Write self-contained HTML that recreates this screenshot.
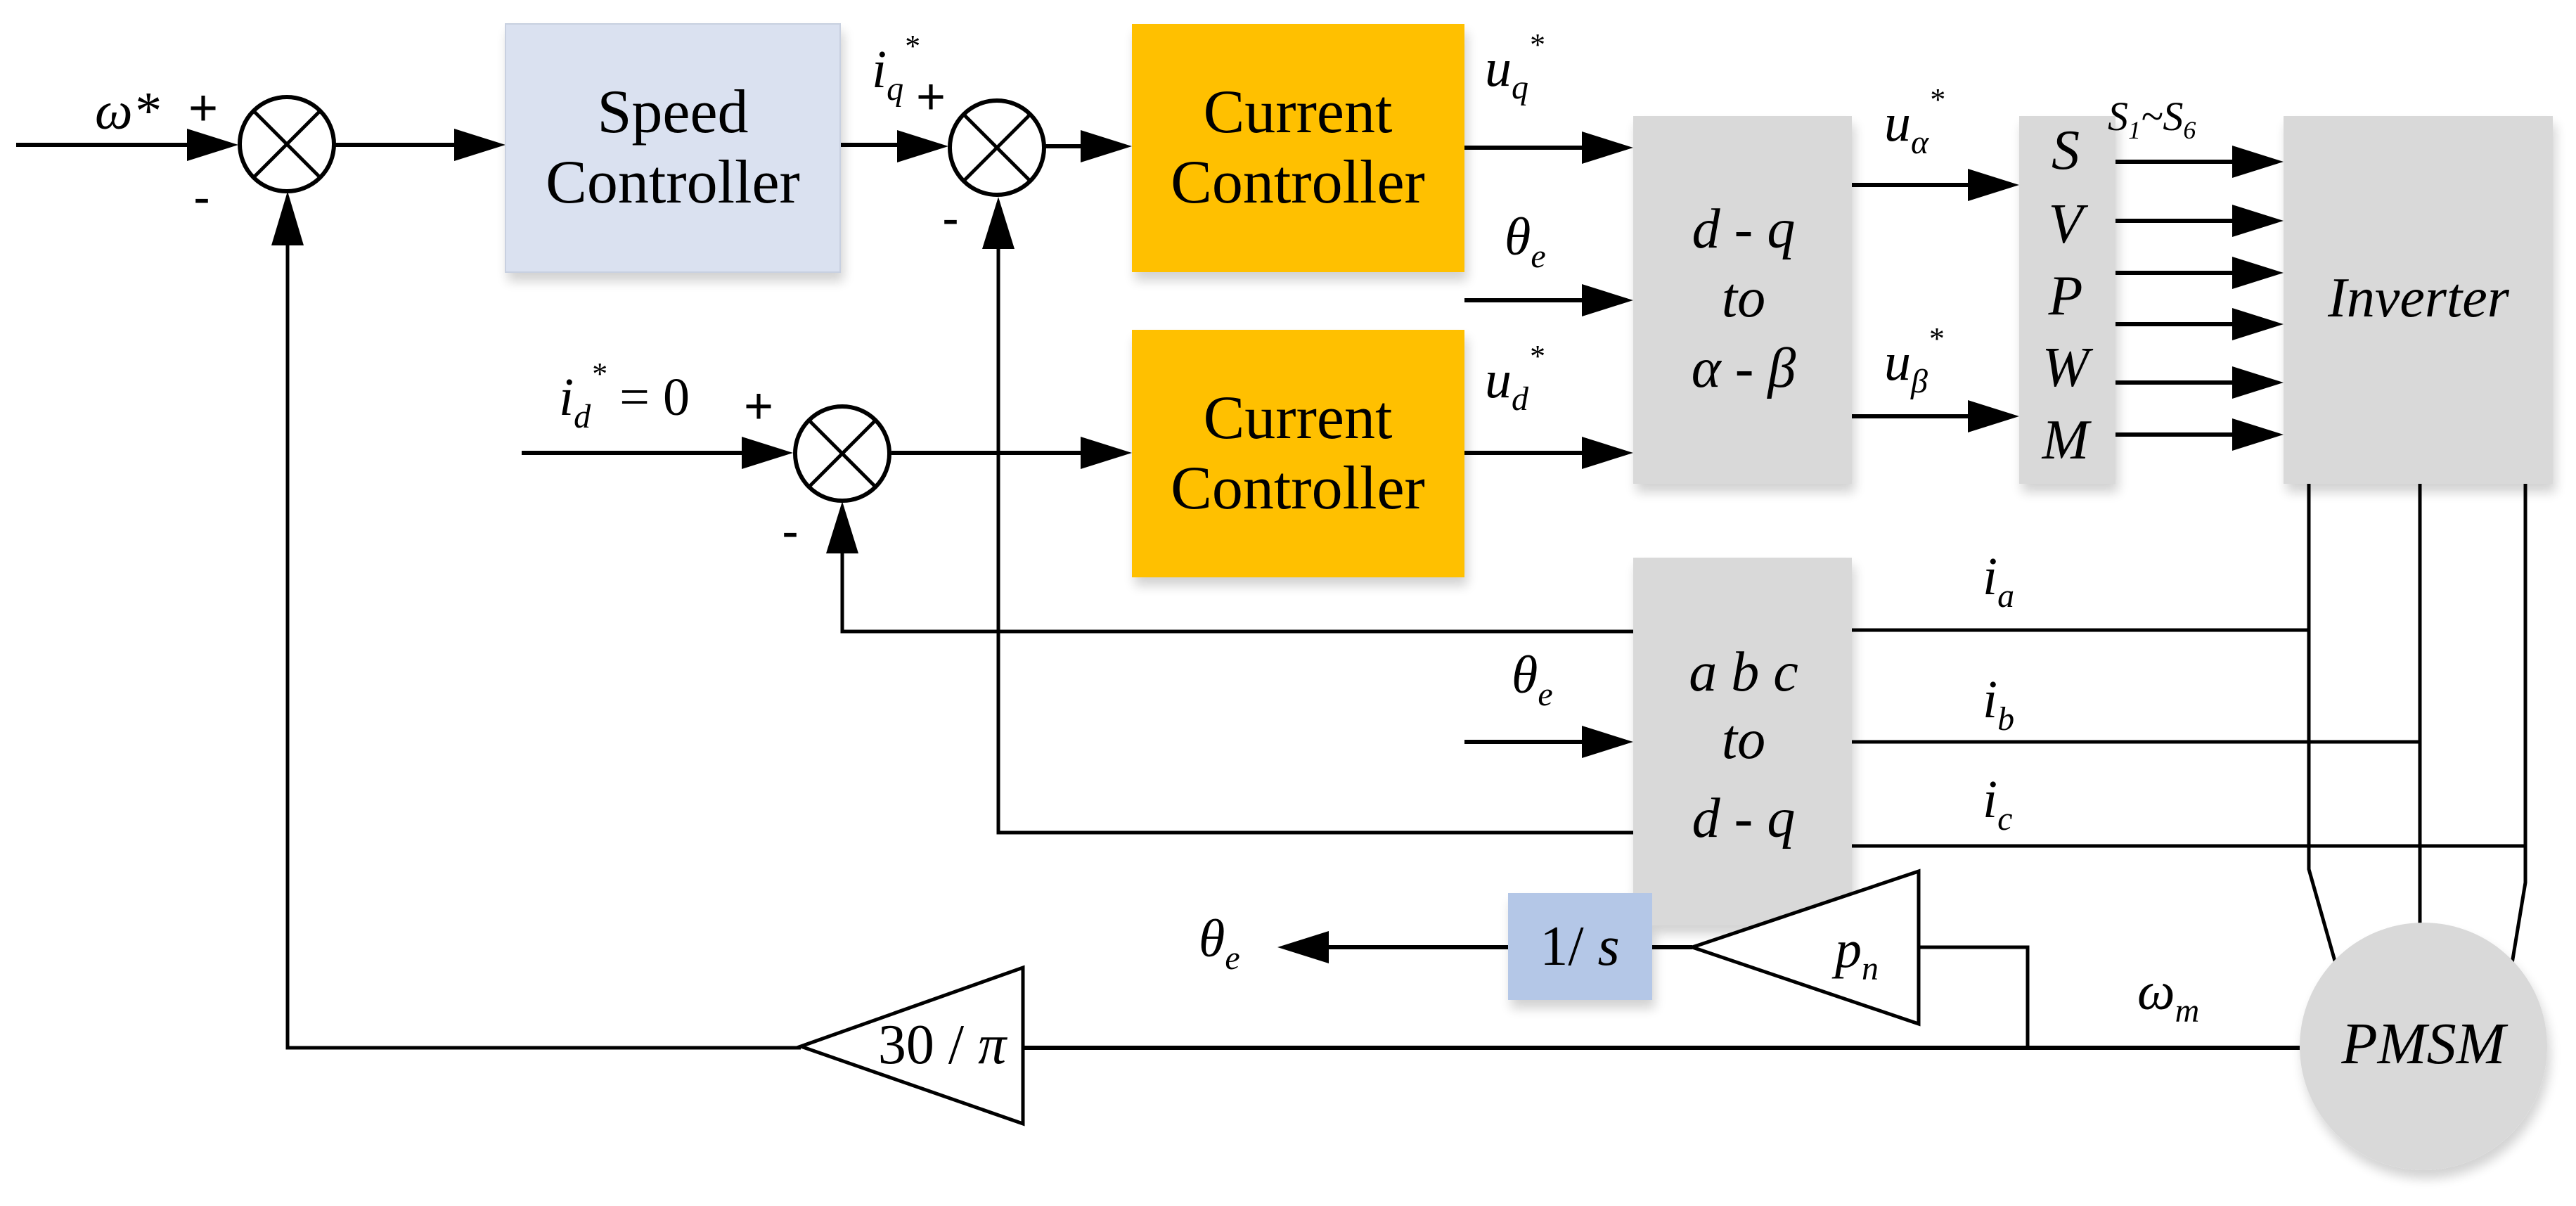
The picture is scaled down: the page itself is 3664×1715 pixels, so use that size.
<!DOCTYPE html>
<html><head><meta charset="utf-8"><style>
html,body{margin:0;padding:0;background:#fff;}
svg{display:block;font-family:"Liberation Serif",serif;}
svg text{font-family:"Liberation Serif",serif;fill:#000;}
</style></head><body>
<svg width="3664" height="1715" viewBox="0 0 3664 1715" xmlns="http://www.w3.org/2000/svg" font-family="Liberation Serif, serif" style="font-family:'Liberation Serif',serif">
<defs>
<filter id="sh" x="-10%" y="-10%" width="130%" height="130%"><feGaussianBlur in="SourceAlpha" stdDeviation="8"/><feOffset dx="4" dy="12"/><feComponentTransfer><feFuncA type="linear" slope="0.18"/></feComponentTransfer><feMerge><feMergeNode/><feMergeNode in="SourceGraphic"/></feMerge></filter>
</defs>
<g stroke="#000" stroke-width="6" fill="none">
<line x1="23" y1="206" x2="280" y2="206"/>
<line x1="477" y1="206" x2="660" y2="206"/>
<line x1="1195" y1="206" x2="1290" y2="206"/>
<line x1="1486" y1="208" x2="1550" y2="208"/>
<line x1="742" y1="644" x2="1070" y2="644"/>
<line x1="1268" y1="644" x2="1550" y2="644"/>
<line x1="2083" y1="210" x2="2265" y2="210"/>
<line x1="2083" y1="427" x2="2265" y2="427"/>
<line x1="2083" y1="644" x2="2265" y2="644"/>
<line x1="2634" y1="263" x2="2815" y2="263"/>
<line x1="2634" y1="592" x2="2815" y2="592"/>
<line x1="3009" y1="230" x2="3190" y2="230"/>
<line x1="3009" y1="314" x2="3190" y2="314"/>
<line x1="3009" y1="388" x2="3190" y2="388"/>
<line x1="3009" y1="461" x2="3190" y2="461"/>
<line x1="3009" y1="544" x2="3190" y2="544"/>
<line x1="3009" y1="618" x2="3190" y2="618"/>
<polyline stroke-width="5" points="1139,1490 409,1490 409,340"/>
<polyline stroke-width="5" points="2323,1184 1420,1184 1420,345"/>
<polyline stroke-width="5" points="2323,898 1198,898 1198,780"/>
<line x1="2083" y1="1055" x2="2265" y2="1055"/>
<line stroke-width="5" x1="2634" y1="896" x2="3284" y2="896"/>
<line stroke-width="5" x1="2634" y1="1055" x2="3442" y2="1055"/>
<line stroke-width="5" x1="2634" y1="1203" x2="3592" y2="1203"/>
<polyline stroke-width="5" points="3284,688 3284,1236 3322,1370"/>
<polyline stroke-width="5" points="3442,688 3442,1313"/>
<polyline stroke-width="5" points="3592,688 3592,1255 3573,1370"/>
<line x1="1455" y1="1490" x2="3271" y2="1490"/>
<polyline stroke-width="5" points="2884,1490 2884,1347 2729,1347"/>
<line x1="2350" y1="1347" x2="2407" y2="1347"/>
<line x1="1880" y1="1347" x2="2145" y2="1347"/>
</g>
<g fill="#000">
<polygon points="339,206 266,183 266,229"/>
<polygon points="719,206 646,183 646,229"/>
<polygon points="1349,208 1276,185 1276,231"/>
<polygon points="1610,208 1537,185 1537,231"/>
<polygon points="1128,644 1055,621 1055,667"/>
<polygon points="1610,644 1537,621 1537,667"/>
<polygon points="409,272 386,349 432,349"/>
<polygon points="1420,280 1397,354 1443,354"/>
<polygon points="1198,713 1175,787 1221,787"/>
<polygon points="2323,210 2250,187 2250,233"/>
<polygon points="2323,427 2250,404 2250,450"/>
<polygon points="2323,644 2250,621 2250,667"/>
<polygon points="2323,1055 2250,1032 2250,1078"/>
<polygon points="2872,263 2799,240 2799,286"/>
<polygon points="2872,592 2799,569 2799,615"/>
<polygon points="3248,230 3175,207 3175,253"/>
<polygon points="3248,314 3175,291 3175,337"/>
<polygon points="3248,388 3175,365 3175,411"/>
<polygon points="3248,461 3175,438 3175,484"/>
<polygon points="3248,544 3175,521 3175,567"/>
<polygon points="3248,618 3175,595 3175,641"/>
<polygon points="1817,1347 1890,1324 1890,1370"/>
</g>
<g filter="url(#sh)">
<rect x="719" y="34" width="476" height="353" fill="#dae1f0" stroke="#c8d0e0" stroke-width="2"/>
<rect x="1610" y="34" width="473" height="353" fill="#ffc000"/>
<rect x="1610" y="469" width="473" height="352" fill="#ffc000"/>
<rect x="2323" y="165" width="311" height="523" fill="#d9d9d9"/>
<rect x="2872" y="165" width="137" height="523" fill="#d9d9d9"/>
<rect x="3248" y="165" width="383" height="523" fill="#d9d9d9"/>
<rect x="2323" y="793" width="311" height="523" fill="#d9d9d9"/>
<rect x="2145" y="1270" width="205" height="152" fill="#b4c7e7"/>
<circle cx="3447" cy="1488" r="176" fill="#d9d9d9"/>
</g>
<g stroke="#000" stroke-width="6" fill="#fff">
<circle cx="408" cy="205" r="67"/>
<circle cx="1418" cy="210" r="67"/>
<circle cx="1198" cy="645" r="67"/>
</g>
<g stroke="#000" stroke-width="5">
<line x1="361" y1="158" x2="455" y2="252"/><line x1="455" y1="158" x2="361" y2="252"/>
<line x1="1371" y1="163" x2="1465" y2="257"/><line x1="1465" y1="163" x2="1371" y2="257"/>
<line x1="1151" y1="598" x2="1245" y2="692"/><line x1="1245" y1="598" x2="1151" y2="692"/>
</g>
<polygon points="2407,1347 2729,1239 2729,1456" fill="#fff" stroke="#000" stroke-width="5"/>
<polygon points="1139,1488 1455,1376 1455,1598" fill="#fff" stroke="#000" stroke-width="5"/>
<g font-family="Liberation Serif, serif" font-size="88" text-anchor="middle">
<text x="957" y="188">Speed</text>
<text x="957" y="288">Controller</text>
<text x="1846" y="188">Current</text>
<text x="1846" y="288">Controller</text>
<text x="1846" y="623">Current</text>
<text x="1846" y="723">Controller</text>
</g>
<g font-family="Liberation Serif, serif" font-size="80" text-anchor="middle" font-style="italic">
<text x="2480" y="352">d - q</text>
<text x="2480" y="450">to</text>
<text x="2480" y="550">α - β</text>
<text x="2480" y="982">a b c</text>
<text x="2480" y="1078">to</text>
<text x="2480" y="1190">d - q</text>
<text x="2938" y="240">S</text>
<text x="2938" y="345">V</text>
<text x="2938" y="447">P</text>
<text x="2938" y="549">W</text>
<text x="2938" y="652">M</text>
<text x="3440" y="450">Inverter</text>
<text x="3447" y="1512" font-size="84">PMSM</text>
</g>
<g font-family="Liberation Serif, serif" font-size="76" font-style="italic">
<text x="135" y="183">ω*</text>
<text x="1240" y="124">i<tspan font-size="48" dy="18">q</tspan><tspan font-size="44" dy="-62">*</tspan></text>
<text x="795" y="590">i<tspan font-size="48" dy="18">d</tspan><tspan font-size="44" dy="-62">*</tspan><tspan font-style="normal" dy="44"> = 0</tspan></text>
<text x="2112" y="122">u<tspan font-size="48" dy="18">q</tspan><tspan font-size="44" dy="-62">*</tspan></text>
<text x="2140" y="362">θ<tspan font-size="48" dy="18">e</tspan></text>
<text x="2112" y="565">u<tspan font-size="48" dy="18">d</tspan><tspan font-size="44" dy="-62">*</tspan></text>
<text x="2680" y="200">u<tspan font-size="48" dy="18">α</tspan><tspan font-size="44" dy="-62">*</tspan></text>
<text x="2680" y="540">u<tspan font-size="48" dy="18">β</tspan><tspan font-size="44" dy="-62">*</tspan></text>
<text x="2998" y="185" font-size="58">S<tspan font-size="36" dy="12">1</tspan><tspan dy="-12">~</tspan>S<tspan font-size="36" dy="12">6</tspan></text>
<text x="2820" y="845">i<tspan font-size="48" dy="18">a</tspan></text>
<text x="2820" y="1020">i<tspan font-size="48" dy="18">b</tspan></text>
<text x="2820" y="1162">i<tspan font-size="48" dy="18">c</tspan></text>
<text x="2150" y="985">θ<tspan font-size="48" dy="18">e</tspan></text>
<text x="1705" y="1360">θ<tspan font-size="48" dy="18">e</tspan></text>
<text x="3040" y="1435">ω<tspan font-size="48" dy="18">m</tspan></text>
<text x="2610" y="1375">p<tspan font-size="48" dy="18">n</tspan></text>
</g>
<text font-family="Liberation Serif, serif" x="2247" y="1372" font-size="80" text-anchor="middle">1/ <tspan font-style="italic">s</tspan></text>
<text font-family="Liberation Serif, serif" x="1340" y="1512" font-size="80" text-anchor="middle">30 / <tspan font-style="italic">π</tspan></text>
<g font-family="Liberation Sans, sans-serif" font-size="72" style="font-family:'Liberation Sans',sans-serif">
<text x="268" y="178" style="font-family:'Liberation Sans',sans-serif">+</text>
<text x="275" y="305" style="font-family:'Liberation Sans',sans-serif">-</text>
<text x="1303" y="162" style="font-family:'Liberation Sans',sans-serif">+</text>
<text x="1340" y="335" style="font-family:'Liberation Sans',sans-serif">-</text>
<text x="1058" y="602" style="font-family:'Liberation Sans',sans-serif">+</text>
<text x="1112" y="780" style="font-family:'Liberation Sans',sans-serif">-</text>
</g>
</svg>
</body></html>
